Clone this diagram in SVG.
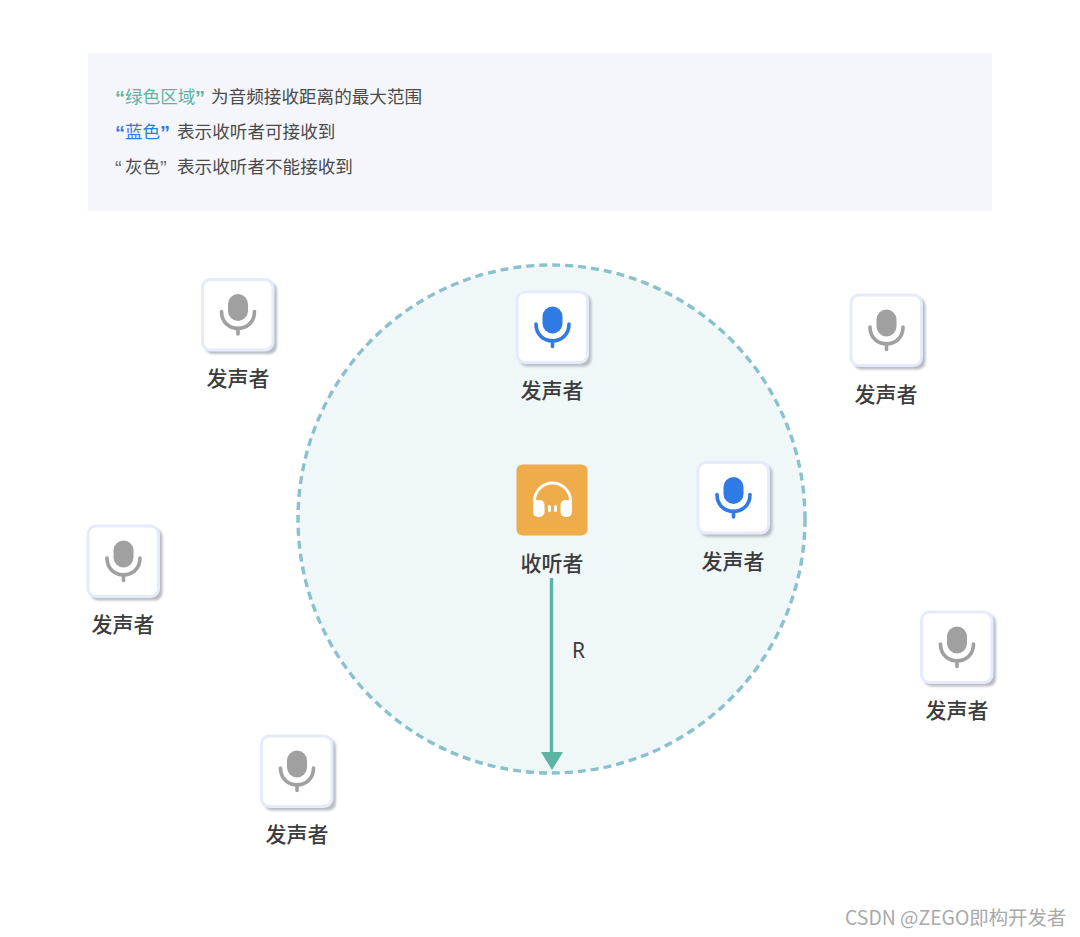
<svg xmlns="http://www.w3.org/2000/svg" width="1080" height="937" viewBox="0 0 1080 937">
<style>
text{font-family:"Noto Sans CJK SC","Noto Sans",sans-serif}
.t{font-size:17.6px;fill:#4a4a4a}
.q{font-family:"Liberation Sans",sans-serif;font-size:20px;font-weight:700}
.l{font-size:21px;font-weight:500;fill:#3c3c3c;text-anchor:middle}
.card{fill:#fff;stroke:#e6ebfb;stroke-width:3}
.sh{fill:#b9bdc3}
</style>
<defs>
<filter id="b" x="-20%" y="-20%" width="140%" height="140%"><feGaussianBlur stdDeviation="1.3"/></filter>
<g id="cardbase">
<rect class="sh" x="4" y="4" width="72" height="72" rx="8" filter="url(#b)"/>
<rect class="card" x="1.5" y="1.5" width="70.500" height="70.500" rx="8"/>
</g>
<g id="mic">
<rect x="27" y="16" width="20" height="27" rx="10" fill="currentColor"/>
<path d="M20.500 33.500C20.500 56 53.500 56 53.500 33.500M37 50V56" fill="none" stroke="currentColor" stroke-width="3.600" stroke-linecap="round"/>
</g>
</defs>
<rect x="0" y="0" width="1080" height="937" fill="#fff"/>
<g id="legend">
<rect x="88" y="53" width="904" height="158" fill="#f4f6fb"/>
<text class="q" x="115" y="105" fill="#5fb3a1" style="fill:#5fb3a1">“</text>
<text class="t" x="125" y="103" style="fill:#5fb3a1">绿色区域</text>
<text class="q" x="195" y="105" style="fill:#5fb3a1">”</text>
<text class="t" x="211" y="103">为音频接收距离的最大范围</text>
<text class="q" x="115" y="140" style="fill:#2f7ae5">“</text>
<text class="t" x="125" y="138" style="fill:#2f7ae5">蓝色</text>
<text class="q" x="160" y="140" style="fill:#2f7ae5">”</text>
<text class="t" x="177" y="138">表示收听者可接收到</text>
<text class="q" x="115" y="175" style="fill:#6a6a6a;font-weight:400">“</text>
<text class="t" x="125" y="173">灰色</text>
<text class="q" x="160" y="175" style="fill:#6a6a6a;font-weight:400">”</text>
<text class="t" x="177" y="173">表示收听者不能接收到</text>
</g>
<g id="range">
<ellipse cx="551.500" cy="519" rx="253.500" ry="254" fill="#eff7f9" stroke="#8bc1cc" stroke-width="3.400" stroke-dasharray="8 5"/>
</g>
<g id="connectors">
<path d="M551.500 578V753" fill="none" stroke="#5bb5a2" stroke-width="3.400"/>
<polygon points="541,752 563,752 552,770" fill="#5bb5a2"/>
<text x="572" y="658" font-size="21" fill="#3c3c3c" style="font-family:'Noto Sans',sans-serif">R</text>
</g>
<g id="speaker-1"><use href="#cardbase" x="201" y="278"/><use href="#mic" x="201" y="278" color="#a0a0a0"/><text class="l" x="238" y="386">发声者</text></g>
<g id="speaker-2"><use href="#cardbase" x="515.500" y="290.500"/><use href="#mic" x="515.500" y="290.500" color="#2f7ae5"/><text class="l" x="552" y="398">发声者</text></g>
<g id="speaker-3"><use href="#cardbase" x="849.500" y="293.500"/><use href="#mic" x="849.500" y="293.500" color="#a0a0a0"/><text class="l" x="886" y="402">发声者</text></g>
<g id="speaker-4"><use href="#cardbase" x="696.500" y="461"/><use href="#mic" x="696.500" y="461" color="#2f7ae5"/><text class="l" x="733" y="569">发声者</text></g>
<g id="speaker-5"><use href="#cardbase" x="86.500" y="524.500"/><use href="#mic" x="86.500" y="524.500" color="#a0a0a0"/><text class="l" x="123" y="632">发声者</text></g>
<g id="speaker-6"><use href="#cardbase" x="920" y="610.500"/><use href="#mic" x="920" y="610.500" color="#a0a0a0"/><text class="l" x="957" y="718">发声者</text></g>
<g id="speaker-7"><use href="#cardbase" x="260" y="734.500"/><use href="#mic" x="260" y="734.500" color="#a0a0a0"/><text class="l" x="297" y="842">发声者</text></g>
<g id="listener">
<rect x="516.500" y="464.500" width="71" height="71" rx="6" fill="#eeac4b"/>
<path d="M534.500 503V501A18 18 0 0 1 570.500 501V503" fill="none" stroke="#fff" stroke-width="3"/>
<rect x="533" y="500" width="11.500" height="17" rx="5" fill="#fff"/>
<rect x="560.500" y="500" width="11.500" height="17" rx="5" fill="#fff"/>
<rect x="548" y="505" width="3" height="7" rx="1.500" fill="#fff"/>
<rect x="554" y="505" width="3" height="7" rx="1.500" fill="#fff"/>
<text class="l" x="552" y="571">收听者</text>
</g>
<text x="845" y="925" font-size="19.400" fill="#a9a9a9">CSDN @ZEGO即构开发者</text>
</svg>
